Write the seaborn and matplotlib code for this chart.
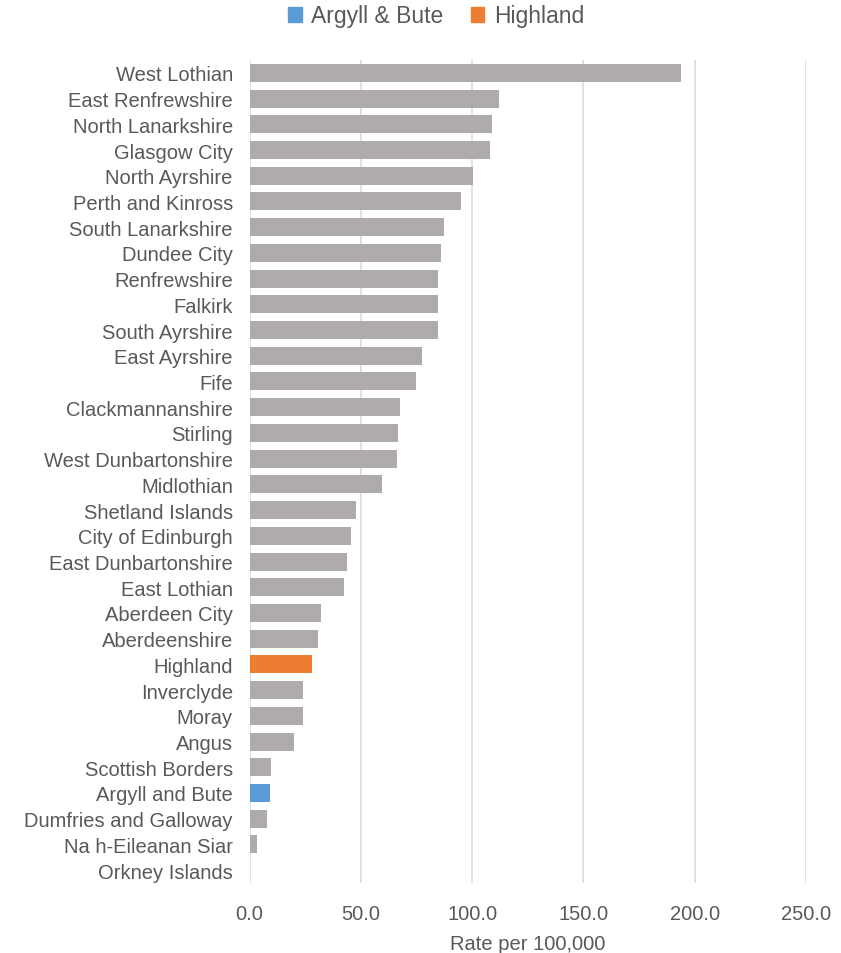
import matplotlib
matplotlib.use("Agg")
import matplotlib.pyplot as plt
import matplotlib.ticker as mticker
import matplotlib.patches as mpatches
import seaborn as sns
import pandas as pd

councils = [
    "West Lothian", "East Renfrewshire", "North Lanarkshire", "Glasgow City",
    "North Ayrshire", "Perth and Kinross", "South Lanarkshire", "Dundee City",
    "Renfrewshire", "Falkirk", "South Ayrshire", "East Ayrshire", "Fife",
    "Clackmannanshire", "Stirling", "West Dunbartonshire", "Midlothian",
    "Shetland Islands", "City of Edinburgh", "East Dunbartonshire",
    "East Lothian", "Aberdeen City", "Aberdeenshire", "Highland",
    "Inverclyde", "Moray", "Angus", "Scottish Borders", "Argyll and Bute",
    "Dumfries and Galloway", "Na h-Eileanan Siar", "Orkney Islands",
]
rates = [
    193.8, 112.0, 108.9, 108.0,
    100.5, 95.2, 87.6, 86.1,
    84.6, 84.6, 84.6, 77.5, 74.6,
    67.7, 66.9, 66.2, 59.3,
    47.7, 45.4, 43.9,
    42.4, 32.3, 30.8, 28.0,
    24.2, 24.2, 20.2, 9.5, 9.1,
    8.0, 3.3, 0.0,
]
groups = ["Other"] * len(councils)
groups[councils.index("Highland")] = "Highland"
groups[councils.index("Argyll and Bute")] = "Argyll & Bute"

legend_labels = ["Argyll & Bute", "Highland"]
colors = {"Other": "#AFABAB", "Argyll & Bute": "#5B9BD5", "Highland": "#ED7D31"}

df = pd.DataFrame({"Council": councils, "Rate": rates, "Group": groups})

sns.set_style("white")
plt.rcParams["font.family"] = ["Liberation Sans", "DejaVu Sans"]
TXT = "#595959"

fig = plt.figure(figsize=(8.41, 9.54), dpi=100)
ax = fig.add_axes([249.5 / 841, 1 - 884 / 954, (806 - 249.5) / 841, (884 - 61) / 954])

sns.barplot(data=df, y="Council", x="Rate", hue="Group", palette=colors,
            dodge=False, width=0.7, orient="h", ax=ax, legend=False,
            linewidth=0, saturation=1)

ax.set_xlim(0, 250)
ax.set_xticks([0, 50, 100, 150, 200, 250])
ax.xaxis.set_major_formatter(mticker.FormatStrFormatter("%.1f"))
ax.grid(axis="x", color="#D9D9D9", linewidth=1.1)
ax.grid(axis="y", visible=False)
ax.set_axisbelow(True)
for s in ax.spines.values():
    s.set_visible(False)

ax.tick_params(axis="y", length=0, pad=12, labelsize=14.5, labelcolor=TXT)
ax.tick_params(axis="x", length=0, pad=15, labelsize=14.5, labelcolor=TXT)
ax.set_ylabel("")
ax.set_xlabel("Rate per 100,000", fontsize=14.5, color=TXT, labelpad=8)

handles = [mpatches.Patch(color=colors[l], label=l) for l in legend_labels]
fig.legend(handles=handles, loc="center", bbox_to_anchor=(436 / 841, 1 - 17 / 954),
           ncol=2, frameon=False, fontsize=16.5, labelcolor=TXT,
           handlelength=0.6, handleheight=0.6, handletextpad=0.4, columnspacing=1.2)

fig.savefig("out.png", dpi=100)
